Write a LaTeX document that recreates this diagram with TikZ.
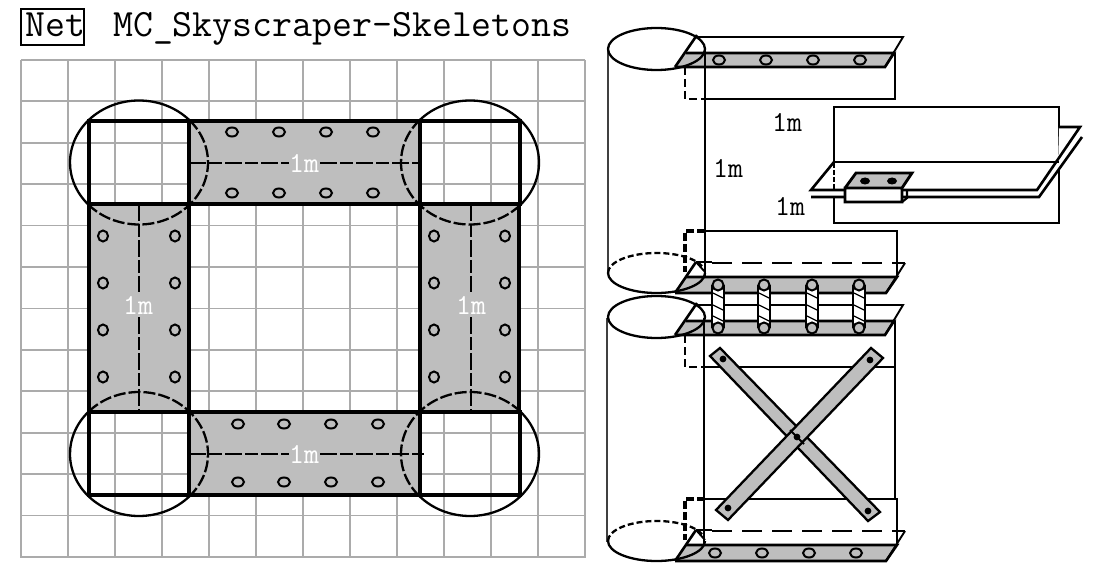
\documentclass[tikz,border=0pt]{standalone}
\definecolor{bandgray}{HTML}{BEBEBE}
\definecolor{gridgray}{HTML}{ABABAB}
\newcommand{\ringarc}[7]{\draw[#7] (#1,#2) ++(#5:#3 and #4) arc[start angle=#5,end angle=#6,x radius=#3,y radius=#4];}
\newcommand{\bigring}[5]{% cx cy start of dashed, end of dashed
  \ringarc{#1}{#2}{69}{62}{#3}{#4}{ringline,dash pattern=on 12pt off 3pt}
  \ringarc{#1}{#2}{69}{62}{#4}{#5}{ringline}}
\newcommand{\mlabel}[5][black]{\node[labeltext,text=#1] (#2) at (#3,#4) {#5};}
\newcommand{\cylinderband}[1]{%
 \begin{scope}[yshift=-#1pt]
  \fill[white] (697,37) rectangle (895,99);
  \fill[bandgray] (686,53)--(894,53)--(885,67)--(675,67)--cycle;
  \draw[thin2] (697,37)--(903,37)--(885,67);
  \draw[thick2] (675,67)--(697,35);
  \draw[thick2] (686,53)--(894,53)--(885,67)--(675,67);
  \draw[thick2] (705,99)--(895,99)--(895,53);
  \draw[thick2,dash pattern=on 8pt off 4pt] (685,67)--(685,99)--(705,99);
  \draw[capline] (656.5,49) ellipse[x radius=48.5,y radius=21];
 \end{scope}}
\newcommand{\cylinderfoot}[1]{%
 \begin{scope}[yshift=-#1pt]
  \fill[bandgray] (686,277)--(896,277)--(886,293)--(675,293)--cycle;
  \draw[thick2] (705,231)--(897,231)--(897,277);
  \draw[thick3,dash pattern=on 8pt off 3pt] (705,231)--(685,231)--(685,272);
  \draw[thick2,dash pattern=on 20pt off 10pt] (712,263)--(905,263);
  \draw[thin2] (905,263)--(886,293);
  \draw[thin2] (696,262)--(705,272);
  \draw[thin2] (696,262)--(712,262);
  \draw[thick2] (675,293)--(696,262);
  \draw[thick2] (686,277)--(897,277)--(886,293)--(675,293);
  \ringarc{656.5}{273}{48.5}{20}{0}{180}{capline}
  \ringarc{656.5}{273}{48.5}{20}{180}{340}{capline,dash pattern=on 6pt off 3pt}
 \end{scope}}
\tikzset{
  ringline/.style={line width=2.3pt,black},
  squareline/.style={line width=3.2pt,black},
  bandline/.style={line width=3.2pt,black},
  midline/.style={line width=2.2pt,black,dash pattern=on 17pt off 3pt on 13pt off 3pt},
  gridline/.style={line width=1.8pt,gridgray},
  holering/.style={line width=2pt,black},
  capline/.style={line width=2.3pt,black},
  thick2/.style={line width=2.6pt,black},
  thick3/.style={line width=3.2pt,black},
  thin2/.style={line width=1.9pt,black},
  strap/.style={fill=bandgray,draw=black,line width=2.3pt},
  labeltext/.style={inner sep=0pt,font=\ttfamily\fontsize{29}{29}\selectfont},
  titletext/.style={inner sep=0pt,anchor=base west,font=\ttfamily\fontsize{38.7}{39}\selectfont},
}
\begin{document}
\begin{tikzpicture}[x=1pt,y=-1pt]
\useasboundingbox (0,0) rectangle (1100,577);
\fill[white] (0,0) rectangle (1100,577);
% title
\node[titletext] (net) at (25,37) {Net};
\draw[line width=2.6pt] (21,9) rectangle (84,45);
\node[titletext] (title) at (113,37) {MC\_Skyscraper-Skeletons};
% grid
\foreach \i in {0,...,12}{
  \draw[gridline] ({21+47*\i},60)--({21+47*\i},558);
  \draw[gridline] (21,{60+41.4*\i})--(585,{60+41.4*\i});
}
% bands
\fill[bandgray] (189,121) rectangle (420,204);
\fill[bandgray] (189,412) rectangle (420,495);
\fill[bandgray] (89,204) rectangle (189,412);
\fill[bandgray] (420,204) rectangle (519,412);
\foreach \x in {232,279,326,373}{
  \draw[holering] (\x,132) ellipse[x radius=6,y radius=4.5];
  \draw[holering] (\x,193) ellipse[x radius=6,y radius=4.5];
}
\foreach \x in {238,284,331,378}{
  \draw[holering] (\x,424) ellipse[x radius=6,y radius=4.5];
  \draw[holering] (\x,482) ellipse[x radius=6,y radius=4.5];
}
\foreach \y in {236,283,330,377}{
  \draw[holering] (103,\y) ellipse[x radius=5,y radius=5.5];
  \draw[holering] (175,\y) ellipse[x radius=5,y radius=5.5];
  \draw[holering] (434,\y) ellipse[x radius=5,y radius=5.5];
  \draw[holering] (505,\y) ellipse[x radius=5,y radius=5.5];
}
% centre lines
\draw[midline] (189,163)--(289,163) (320,163)--(420,163);
\draw[midline] (189,454)--(289,454) (320,454)--(424,454);
\draw[midline] (139,204)--(139,292) (139,317)--(139,412);
\draw[midline] (471,204)--(471,292) (471,317)--(471,412);
\mlabel[white]{la}{304}{163}{1m}
\mlabel[white]{lb}{304}{454}{1m}
\mlabel[white]{lc}{138}{305}{1m}
\mlabel[white]{ld}{471}{305}{1m}
% band and square outlines
\draw[bandline] (189,121)--(420,121);
\draw[bandline] (189,204)--(420,204);
\draw[bandline] (189,412)--(420,412);
\draw[bandline] (189,495)--(420,495);
\draw[bandline] (89,204)--(89,412);
\draw[bandline] (189,204)--(189,412);
\draw[bandline] (420,204)--(420,412);
\draw[bandline] (519,204)--(519,412);
\foreach \x/\y in {89/121,420/121,89/412,420/412}{
  \draw[squareline] (\x,\y) rectangle ({\x+100},{\y+83});
}
% rings: dashed inside the bands, solid outside
\bigring{139}{162.5}{-43}{137}{317}
\bigring{470}{162.5}{43}{223}{403}
\bigring{139}{454}{-137}{43}{223}
\bigring{470}{454}{137}{317}{497}
% ---------- upper cylinder ----------
\draw[line width=1.6pt,black!75] (608,49)--(608,273);
\cylinderband{0}
\draw[line width=2.7pt] (705,49)--(705,277);
\cylinderfoot{0}
\foreach \x in {719,766,813,860}{
  \draw[holering] (\x,60) ellipse[x radius=6,y radius=4.5];
}
\mlabel{le}{787}{122}{1m}
\mlabel{lf}{728}{168}{1m}
% inset
\draw[line width=2.4pt] (834,107) rectangle (1059,223);
\fill[white] (835,163) -- (811,190)--(811,197)--(1039,197)--(1082,137)--(1080,127)--(1059,127)--(1058,163)--cycle;
\draw[thick2] (834,162)--(811,190)--(1037,190)--(1080,127)--(1059,127);
\draw[thick2] (811,197)--(1039,197)--(1082,137);
\draw[thick2] (834,162)--(1059,162);
\draw[line width=1.8pt,dash pattern=on 5pt off 2pt] (834,163)--(834,190);
\fill[bandgray] (856,173)--(912,173)--(902,188)--(845,188)--cycle;
\fill[white] (845,188) rectangle (902,202);
\draw[line width=2.8pt] (845,188)--(856,173)--(912,173)--(902,188)--(845,188)--(845,202)--(902,202)--(902,188);
\draw[line width=2.2pt] (902,202)--(907,198)--(907,190);
\fill[black] (865,181) ellipse[x radius=5,y radius=3.5];
\fill[black] (892,181) ellipse[x radius=5,y radius=3.5];
\mlabel{lg}{790}{206}{1m}
% ---------- lower cylinder ----------
\draw[line width=1.6pt,black!75] (607,318)--(607,542);
\cylinderband{268}
\draw[line width=2.7pt] (704,318)--(704,547);
\draw[line width=1.2pt] (895,367)--(895,499);
\cylinderfoot{268}
\foreach \x in {715,762,809,856}{
  \draw[holering] (\x,553) ellipse[x radius=6,y radius=4.5];
}
% straps
\draw[strap] (710,356)--(720,348)--(880,512)--(868,521)--cycle;
\draw[strap] (871,348)--(883,358)--(728,520)--(716,510)--cycle;
\foreach \x/\y in {723/359,870/360,728/508,868/511,797/437}{
  \fill[black] (\x,\y) circle[radius=3.4];
}
\draw[line width=1.8pt] (790,430)--(804,444);
% bolts between the two cylinders
\foreach \x in {718,764,812,859}{
  \fill[white] ({\x-5},287) rectangle ({\x+5},326);
  \draw[thin2] ({\x-6},285)--({\x-6},328);
  \draw[thin2] ({\x+6},285)--({\x+6},328);
  \fill[bandgray] (\x,285) circle[radius=5.5];
  \fill[bandgray] (\x,328) circle[radius=5.5];
  \draw[holering] (\x,285) circle[radius=5.5];
  \draw[holering] (\x,328) circle[radius=5.5];
  \foreach \d in {293,305,316}{
    \draw[line width=1.2pt] ({\x-5},\d)--({\x+5},{\d+5});
  }
}
\end{tikzpicture}
\end{document}
